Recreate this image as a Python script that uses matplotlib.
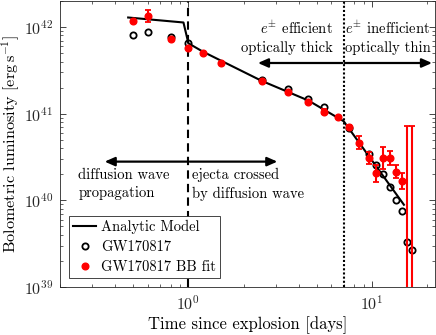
import matplotlib
matplotlib.use("Agg")
import matplotlib.pyplot as plt
import matplotlib.ticker as mticker
from matplotlib.lines import Line2D
import numpy as np

# ============================================================
# Data
# ============================================================
# Analytic model
model_t = [0.47, 0.94, 1.0, 1.2, 2.5, 4.5, 7.0, 14.9]
model_L = [1.29e42, 1.13e42, 6.5e41, 5.2e41, 2.4e41, 1.42e41, 8.2e40, 8.9e39]

# GW170817 (open circles)
obs_t = [0.5, 0.6, 0.8, 1.0, 2.5, 3.5, 4.5, 5.5, 7.5, 9.6, 10.5, 11.5, 12.5,
         13.5, 14.5, 15.5, 16.5]
obs_L = [8.2e41, 8.7e41, 7.6e41, 6.5e41, 2.45e41, 1.93e41, 1.48e41, 1.21e41,
         6.8e40, 3.45e40, 2.57e40, 2.0e40, 1.42e40, 1.0e40, 7.6e39, 3.35e39,
         2.64e39]

# GW170817 blackbody fit (filled red, with errors)
bb_t = [0.5, 0.6, 0.8, 1.0, 1.2, 1.5, 2.5, 3.5, 4.5, 5.5, 6.5, 7.5, 8.5, 9.6,
        10.5, 11.5, 12.5, 13.5, 14.6, 15.5, 16.4]
bb_L = [1.16e42, 1.33e42, 7.35e41, 5.7e41, 5.0e41, 3.8e41, 2.36e41, 1.76e41,
        1.36e41, 1.06e41, 9.2e40, 7.1e40, 4.6e40, 3.07e40, 2.07e40, 3.1e40,
        3.07e40, 2.12e40, 1.68e40, 3e38, 3e38]
bb_lo = [1.16e42, 1.15e42, 7.35e41, 5.7e41, 5.0e41, 3.8e41, 2.36e41, 1.76e41,
         1.36e41, 1.0e41, 9.2e40, 6.7e40, 3.91e40, 2.62e40, 1.65e40, 2.32e40,
         2.53e40, 1.81e40, 1.36e40, 1e37, 1e37]
bb_hi = [1.16e42, 1.56e42, 7.35e41, 5.7e41, 5.0e41, 3.8e41, 2.36e41, 1.76e41,
         1.36e41, 1.12e41, 9.2e40, 7.5e40, 5.47e40, 3.61e40, 2.56e40, 4.12e40,
         3.7e40, 2.58e40, 2.07e40, 7.2e40, 7.2e40]

T_DIFF = 1.0
T_THIN = 7.0

# ============================================================
# Style
# ============================================================
plt.rcParams['font.family'] = ['cmr10', 'DejaVu Serif']
plt.rcParams['mathtext.fontset'] = 'cm'
plt.rcParams['axes.formatter.use_mathtext'] = True
plt.rcParams['axes.unicode_minus'] = False

fig = plt.figure(figsize=(4.36, 3.35), dpi=100)
ax = fig.add_axes([60 / 436, 1 - 287 / 335, 375 / 436, 286 / 335])

ax.plot(model_t, model_L, color='black', linewidth=1.5, zorder=3)
ax.plot(obs_t, obs_L, 'o', mfc='none', mec='black', mew=1.3, ms=4.5, zorder=4)
bb_err = [np.array(bb_L) - np.array(bb_lo), np.array(bb_hi) - np.array(bb_L)]
ax.errorbar(bb_t, bb_L, yerr=bb_err, fmt='o', color='red', ms=4.8,
            elinewidth=1.5, capsize=2.4, capthick=1.3, zorder=5)

ax.axvline(T_DIFF, color='black', linestyle=(0, (4, 2.5)), linewidth=1.5, zorder=2)
ax.axvline(T_THIN, color='black', linestyle=(0, (1, 1)), linewidth=1.5, zorder=2)

ax.set_xscale('log')
ax.set_yscale('log')
ax.set_xlim(0.2, 22)
ax.set_ylim(1e39, 2e42)

# Arrows
arr = dict(arrowstyle='-|>,head_length=0.5,head_width=0.22', color='black', lw=1.6,
           mutation_scale=12, shrinkA=0, shrinkB=0)
ax.annotate('', xy=(0.35, 2.8e40), xytext=(0.985, 2.8e40), arrowprops=arr)
ax.annotate('', xy=(3.05, 2.8e40), xytext=(1.015, 2.8e40), arrowprops=arr)
ax.annotate('', xy=(2.39, 3.85e41), xytext=(6.9, 3.85e41), arrowprops=arr)
ax.annotate('', xy=(21.2, 3.85e41), xytext=(7.1, 3.85e41), arrowprops=arr)

# Region labels
tsize = 10.5
ax.text(0.252, 2.35e40, 'diffusion wave\npropagation', fontsize=tsize,
        ha='left', va='top', linespacing=1.4)
ax.text(1.05, 2.35e40, 'ejecta crossed\nby diffusion wave', fontsize=tsize,
        ha='left', va='top', linespacing=1.4)
ax.text(6.1, 4.8e41, '$e^{\\pm}$ efficient\noptically thick', fontsize=tsize,
        ha='right', va='bottom', linespacing=1.4, multialignment='right')
ax.text(7.12, 4.8e41, '$e^{\\pm}$ inefficient\noptically thin', fontsize=tsize,
        ha='left', va='bottom', linespacing=1.4)

ax.set_xlabel('Time since explosion [days]', fontsize=12, labelpad=3)
ax.set_ylabel('Bolometric luminosity [erg$\\,$s$^{-1}$]', fontsize=11.7, labelpad=1)

# Ticks (MATLAB-like box)
fmt = mticker.FuncFormatter(lambda v, p: '$\\mathsf{10^{%d}}$' % round(np.log10(v)))
ax.xaxis.set_major_formatter(fmt)
ax.yaxis.set_major_formatter(fmt)
ax.xaxis.set_minor_formatter(mticker.NullFormatter())
ax.yaxis.set_minor_formatter(mticker.NullFormatter())
ax.tick_params(which='both', direction='in', top=True, right=True,
               colors='#262626', labelsize=11.5)
ax.tick_params(which='major', length=4, width=0.6, pad=5)
ax.tick_params(which='minor', length=2, width=0.5)
for s in ax.spines.values():
    s.set_color('#262626')
    s.set_linewidth(0.6)

handles = [
    Line2D([], [], color='black', linewidth=1.5),
    Line2D([], [], ls='none', marker='o', mfc='none', mec='black', mew=1.3, ms=4.5),
    Line2D([], [], ls='none', marker='o', color='red', ms=4.8),
]
labels = ['Analytic Model', 'GW170817', 'GW170817 BB fit']
leg = ax.legend(handles, labels, loc='lower left', fontsize=10.5, frameon=True,
                fancybox=False, edgecolor='#262626', framealpha=1,
                handlelength=1.6, handletextpad=0.3, borderpad=0.3,
                labelspacing=0.42, borderaxespad=0.6)
leg.get_frame().set_linewidth(0.6)

fig.savefig('out.png', dpi=100)
